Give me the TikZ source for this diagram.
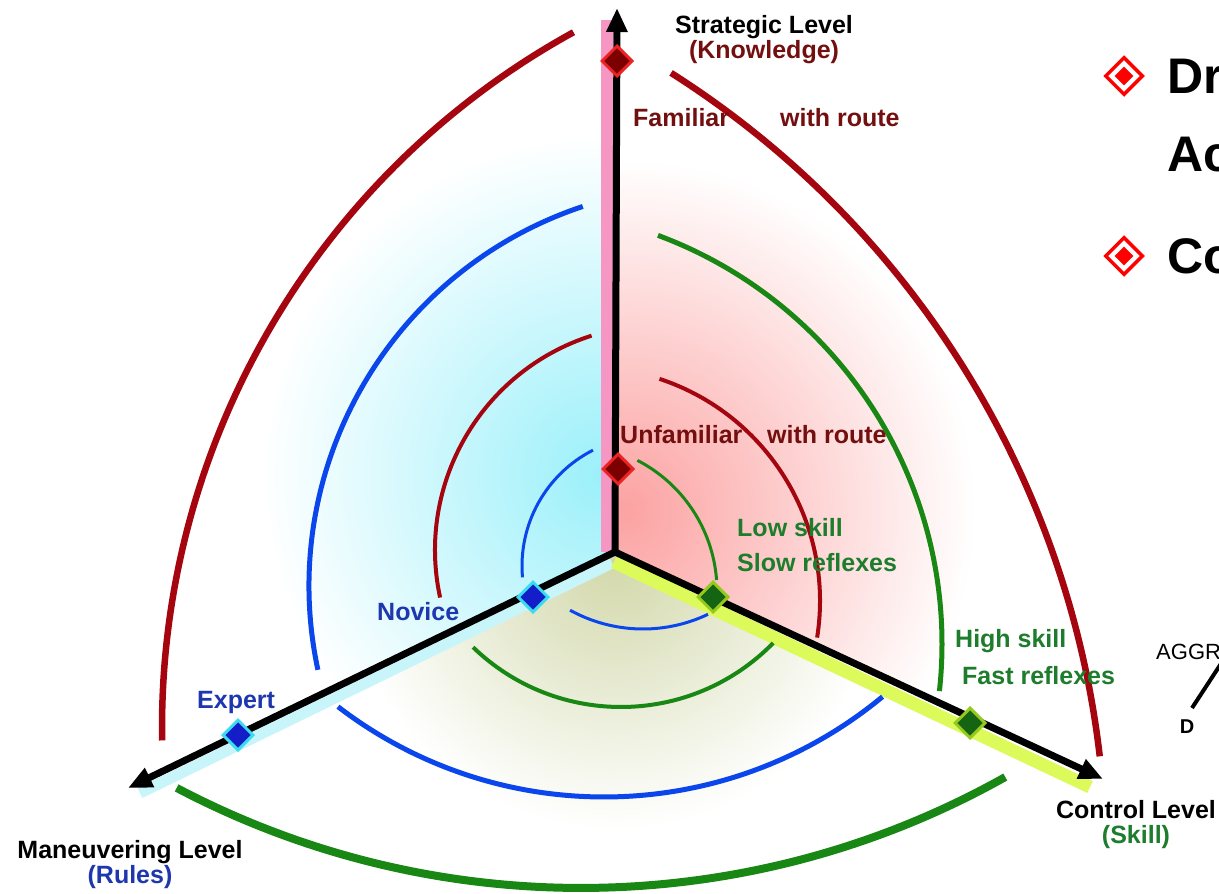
\documentclass[tikz,border=0pt]{standalone}
\usepackage{fontspec}
\setmainfont{Liberation Sans}
\usetikzlibrary{arrows.meta,shapes.geometric}

\definecolor{ringred}{RGB}{165,5,15}
\definecolor{ringblue}{RGB}{10,70,235}
\definecolor{ringgreen}{RGB}{25,135,20}
\definecolor{txtred}{RGB}{115,15,15}
\definecolor{txtgreen}{RGB}{30,125,45}
\definecolor{txtblue}{RGB}{30,55,175}
\definecolor{bandpink}{RGB}{245,150,195}
\definecolor{bandcyan}{RGB}{200,245,250}
\definecolor{bandlime}{RGB}{220,250,90}
\definecolor{shadecyan}{RGB}{155,240,250}
\definecolor{shadepink}{RGB}{252,162,162}
\definecolor{shadeolive}{RGB}{210,216,170}
\definecolor{markred}{RGB}{125,0,0}
\definecolor{rimred}{RGB}{235,35,35}
\definecolor{markblue}{RGB}{20,30,200}
\definecolor{rimblue}{RGB}{60,220,240}
\definecolor{markgreen}{RGB}{20,100,20}
\definecolor{rimgreen}{RGB}{150,200,30}

\begin{document}
\begin{tikzpicture}[x=1pt,y=-1pt,
  lbl/.style={anchor=west,inner sep=0pt,font=\bfseries\fontsize{25}{35}\selectfont},
  title/.style={inner sep=0pt,align=center,font=\bfseries\fontsize{25}{25}\selectfont},
  axisline/.style={line width=7pt,-{Triangle[length=24pt,width=20pt]}},
  levelmark/.style={diamond,aspect=1,minimum size=31pt,inner sep=0pt,line width=3pt},
  redmark/.style={levelmark,fill=markred,draw=rimred},
  bluemark/.style={levelmark,fill=markblue,draw=rimblue},
  greenmark/.style={levelmark,fill=markgreen,draw=rimgreen},
  bulletout/.style={diamond,aspect=1,minimum size=38pt,inner sep=0pt,draw=red,line width=3.5pt,fill=white},
  bulletin/.style={diamond,aspect=1,minimum size=19pt,inner sep=0pt,fill=red},
  bigtxt/.style={anchor=west,inner sep=0pt,font=\bfseries\fontsize{50}{50}\selectfont}]
\useasboundingbox (0,0) rectangle (1219,894);
\clip (0,0) rectangle (1219,894);
\fill[white] (0,0) rectangle (1219,894);

% Axis end points
\coordinate (O) at (615,552);
\coordinate (top) at (617,8);
\coordinate (left) at (128,788);
\coordinate (right) at (1103,779);

% Shaded sectors
\begin{scope}
  \clip (O) -- (615,0) -- (0,0) -- (0,850) -- cycle;
  \shade[inner color=shadecyan, outer color=white] (602,475) circle (340pt);
\end{scope}
\begin{scope}
  \clip (O) -- (615,0) -- (1219,0) -- (1219,833) -- cycle;
  \shade[inner color=shadepink, outer color=white] (625,510) circle (350pt);
\end{scope}
\begin{scope}
  \clip (O) -- (0,850) -- (0,894) -- (1219,894) -- (1219,833) -- cycle;
  \shade[inner color=shadeolive, outer color=white] (615,560) circle (270pt);
\end{scope}

% Coloured bands along the axes
\fill[bandpink] (601,20) rectangle (613,552);
\draw[bandcyan,line width=11pt] (612,563) -- (140,793);
\draw[bandlime,line width=13pt] (614,562) -- (1090,787);

% Axes
\draw[axisline] (O) -- (top);
\draw[axisline] (O) -- (left);
\draw[axisline] (O) -- (right);

% Outer ring
\draw[ringred,line width=6.5pt] (956,728) ++(241.2:794) arc[start angle=241.2,end angle=179.1,radius=794];
\draw[ringred,line width=6.5pt] (169,864) ++(-57.6:937) arc[start angle=-57.6,end angle=-6.6,radius=937];
\draw[ringgreen,line width=8pt] (581,21) ++(117.8:867) arc[start angle=117.8,end angle=60.7,radius=867];

% Third ring
\draw[ringblue,line width=5pt] (709,586) ++(251.6:400) arc[start angle=251.6,end angle=167.9,radius=400];
\draw[ringgreen,line width=5pt] (506,644) ++(-69.6:436) arc[start angle=-69.6,end angle=6.2,radius=436];
\draw[ringblue,line width=5pt] (604,360) ++(127.5:437) arc[start angle=127.5,end angle=50.4,radius=437];

% Second ring
\draw[ringred,line width=4pt] (660,550) ++(252.3:225) arc[start angle=252.3,end angle=167.8,radius=225];
\draw[ringred,line width=4pt] (586,601) ++(-71.7:234) arc[start angle=-71.7,end angle=9,radius=234];
\draw[ringgreen,line width=4pt] (621,494) ++(134:213) arc[start angle=134,end angle=44.4,radius=213];

% Inner ring
\draw[ringblue,line width=3pt] (652,566) ++(243:130) arc[start angle=243,end angle=175,radius=130];
\draw[ringgreen,line width=3pt] (570,591) ++(-62.7:147) arc[start angle=-62.7,end angle=-4.3,radius=147];
\draw[ringblue,line width=3pt] (643,478) ++(118.9:151) arc[start angle=118.9,end angle=64.5,radius=151];

% Level markers
\node[redmark] (familiar) at (617,61) {};
\node[redmark] (unfamiliar) at (618,469) {};
\node[bluemark] (novice) at (533,597) {};
\node[bluemark] (expert) at (238,735) {};
\node[greenmark] (lowskill) at (713,597) {};
\node[greenmark] (highskill) at (970,723) {};

% Labels
\node[title] (strategic) at (764,40) {Strategic Level\\\color{txtred}(Knowledge)};
\node[title] (maneuver) at (130,865) {Maneuvering Level\\\color{txtblue}(Rules)};
\node[title] (control) at (1136,825) {Control Level\\\color{txtgreen}(Skill)};
\node[lbl,txtred] at (633,118) {Familiar};
\node[lbl,txtred] at (780,118) {with route};
\node[lbl,txtred] at (620,435) {Unfamiliar};
\node[lbl,txtred] at (767,435) {with route};
\node[lbl,txtgreen,align=left] at (737,545) {Low skill\\Slow reflexes};
\node[lbl,txtgreen] at (955,641) {High skill};
\node[lbl,txtgreen] at (962,676) {Fast reflexes};
\node[lbl,txtblue] at (377,612) {Novice};
\node[lbl,txtblue] at (197,702) {Expert};

% Slide text on the right
\node[bulletout] (bullet1) at (1124,76) {};
\node[bulletin] at (bullet1) {};
\node[bulletout] (bullet2) at (1124,256) {};
\node[bulletin] at (bullet2) {};
\node[bigtxt] at (1167,76) {Dr};
\node[bigtxt] at (1167,155) {Ac};
\node[bigtxt] at (1167,256) {Co};
\node[anchor=west,inner sep=0pt,font=\fontsize{22}{22}\selectfont] (aggr) at (1156,652) {AGGR};
\node[inner sep=0pt,font=\bfseries\fontsize{20}{20}\selectfont] (dnode) at (1187,727) {D};
\draw[line width=4pt] (1192,708) -- (1226,656);

\end{tikzpicture}
\end{document}
